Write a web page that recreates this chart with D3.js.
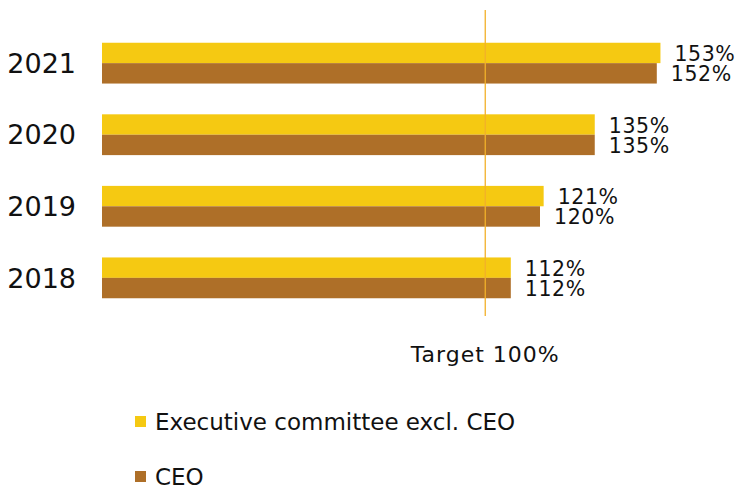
<!DOCTYPE html>
<html><head><meta charset="utf-8">
<script src="https://cdn.jsdelivr.net/npm/d3@7"></script>
<style>html,body{margin:0;padding:0;background:#fff;}svg{display:block;font-family:"DejaVu Sans",Verdana,sans-serif;}</style>
</head><body>
<svg id="c" width="736" height="485"></svg>
<script>
const years = ["2021", "2020", "2019", "2018"];
const seriesNames = ["Executive committee excl. CEO", "CEO"];
const execValues = [153, 135, 121, 112];
const ceoValues = [152, 135, 120, 112];
const targetLabel = "Target 100%";
const targetLinePos = 105; // where the target line is drawn in the original
const colors = ["#F5C912", "#AE6F28"];

const svg = d3.select("#c");
const x = d3.scaleLinear().domain([0, 160]).range([102, 102 + 160 * 3.65]);
const y = d3.scaleBand().domain(years).range([27, 314]).paddingInner(0.43).paddingOuter(0.22);
const sub = d3.scaleBand().domain([0, 1]).range([0, y.bandwidth()]);

const series = [execValues, ceoValues];
years.forEach((yr, i) => {
  series.forEach((vals, s) => {
    const top = y(yr) + sub(s);
    svg.append("rect").attr("x", x(0)).attr("y", top)
      .attr("width", x(vals[i]) - x(0)).attr("height", sub.bandwidth())
      .attr("fill", colors[s]);
    svg.append("text").attr("x", x(vals[i]) + 14).attr("y", top + sub.bandwidth() / 2 + 8)
      .attr("font-size", 20.5).attr("letter-spacing", 0.6).attr("fill", "#111").text(vals[i] + "%");
  });
});

// year labels
const yAxis = d3.axisLeft(y).tickSize(0).tickPadding(0);
const ga = svg.append("g").attr("transform", "translate(76,0)").call(yAxis);
ga.select(".domain").remove();
ga.selectAll("text").attr("font-size", 27).attr("fill", "#111")
  .attr("font-family", "'DejaVu Sans',Verdana,sans-serif").attr("dy", "0.36em");

// target line
svg.append("line").attr("x1", x(targetLinePos)).attr("x2", x(targetLinePos))
  .attr("y1", 10).attr("y2", 316).attr("stroke", "#F2B02A").attr("stroke-width", 1.3);
svg.append("text").attr("x", x(targetLinePos)).attr("y", 362).attr("text-anchor", "middle")
  .attr("font-size", 22).attr("letter-spacing", 1).attr("fill", "#111").text(targetLabel);

// legend
const legY = [430, 485];
seriesNames.forEach((n, s) => {
  svg.append("rect").attr("x", 135).attr("y", legY[s] - 14).attr("width", 11).attr("height", 11).attr("fill", colors[s]);
  svg.append("text").attr("x", 155).attr("y", legY[s]).attr("font-size", 23).attr("fill", "#111").text(n);
});
</script>
</body></html>
